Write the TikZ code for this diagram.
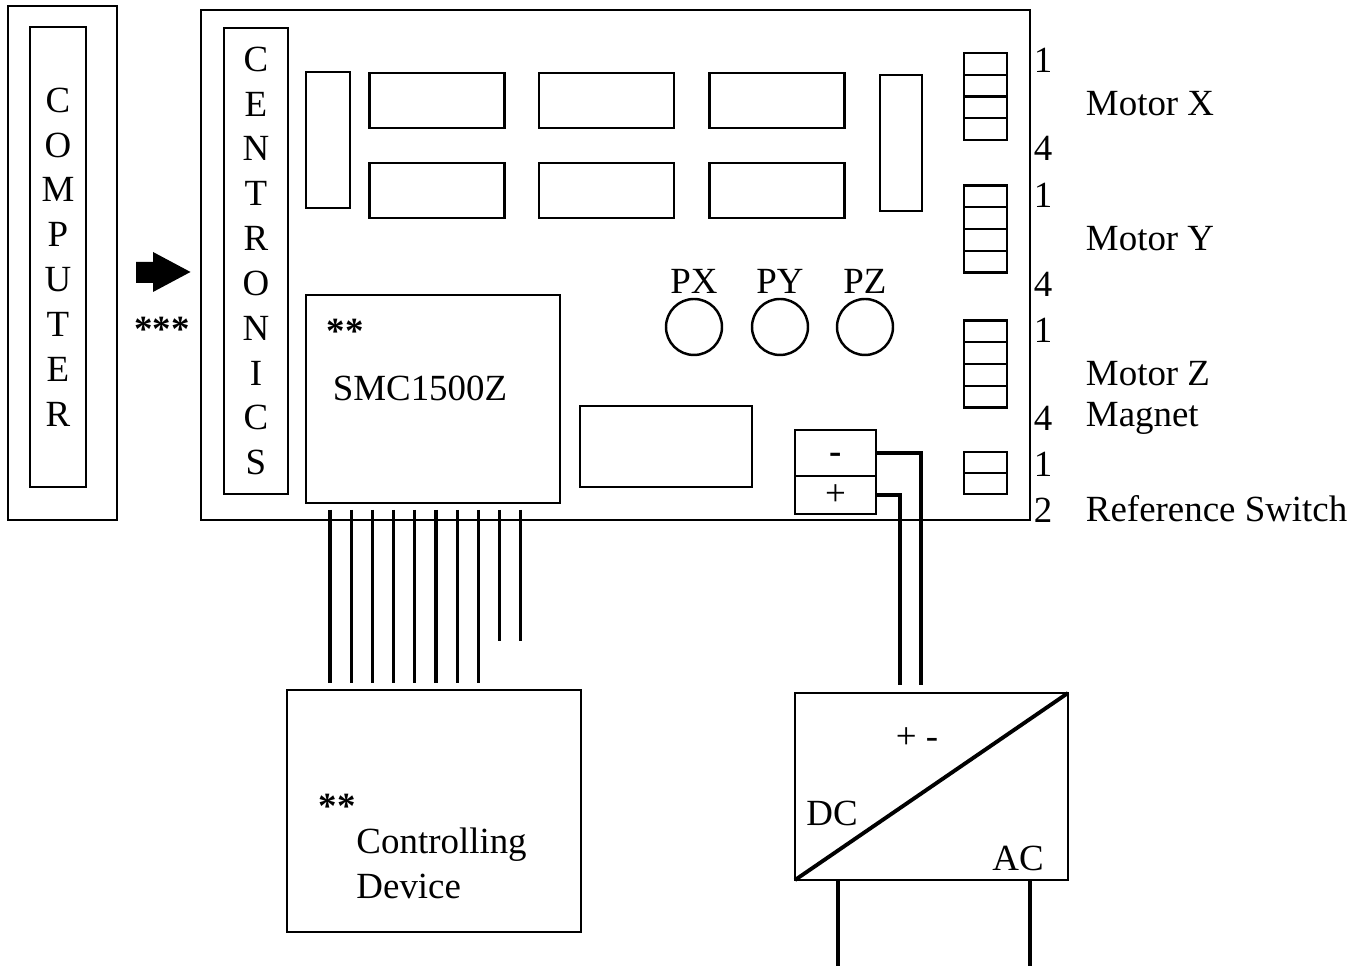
\documentclass[tikz,border=0pt]{standalone}
\usepackage{fontspec}
\setmainfont{Liberation Serif}
\usetikzlibrary{calc}

\begin{document}
\begin{tikzpicture}[font=\fontsize{21}{25.5}\selectfont, line width=1.4pt,
  box/.style={draw, rectangle, inner sep=0pt, outer sep=0pt},
  txt/.style={inner sep=1pt},
  star/.style={inner sep=1pt, font=\fontsize{21}{25.5}\selectfont\bfseries},
  wire/.style={line width=1.8pt}]
\useasboundingbox (0,0) rectangle (27.38,19.32);

% Computer
\node[box, minimum width=2.18cm, minimum height=10.28cm] (pc) at (1.25,14.06) {};
\node[box, minimum width=1.12cm, minimum height=9.2cm, align=center] (pcin) at (1.16,14.18) {C\\O\\M\\P\\U\\T\\E\\R};

% Arrow to the board
\fill (2.72,14.08) -- (3.06,14.08) -- (3.06,14.28) -- (3.81,13.88) -- (3.06,13.48) -- (3.06,13.66) -- (2.72,13.66) -- cycle;
\node[star] (stars) at (3.24,12.74) {***};

% Board
\node[box, minimum width=16.58cm, minimum height=10.2cm] (board) at (12.31,14.02) {};
\node[box, minimum width=1.28cm, minimum height=9.32cm, align=center] (cent) at (5.12,14.1) {C\\E\\N\\T\\R\\O\\N\\I\\C\\S};

% Chips
\node[box, minimum width=0.88cm, minimum height=2.72cm] (chipl) at (6.56,16.52) {};
\foreach \n/\x in {a/8.74, b/12.13, c/15.54}{
  \node[box, minimum width=2.7cm, minimum height=1.1cm] (top\n) at (\x,17.31) {};
  \node[box, minimum width=2.7cm, minimum height=1.1cm] (bot\n) at (\x,15.51) {};
}
\node[box, minimum width=0.84cm, minimum height=2.72cm] (chipr) at (18.02,16.46) {};

% SMC1500Z
\node[box, minimum width=5.08cm, minimum height=4.16cm] (smc) at (8.66,11.34) {};
\node[star] (smcstar) at (6.9,12.7) {**};
\node[txt] (smcname) at (8.4,11.56) {SMC1500Z};

% Potentiometers
\foreach \p/\x in {X/13.88, Y/15.6, Z/17.3}
  \node[draw, circle, minimum size=1.12cm, inner sep=0pt,
        label={[txt, label distance=1pt]above:P\p}] (p\p) at (\x,12.78) {};

\node[box, minimum width=3.44cm, minimum height=1.62cm] (relay) at (13.32,10.39) {};

% Power terminal
\node[box, minimum width=1.62cm, minimum height=0.92cm] (minus) at (16.71,10.26) {};
\node[star] (minussign) at (16.71,10.16) {-};
\node[box, minimum width=1.62cm, minimum height=0.76cm] (plus) at (16.71,9.42) {+};

% Motor connectors
\foreach \m/\y in {x/17.39, y/14.74, z/12.04}{
  \node[box, minimum width=0.86cm, minimum height=1.74cm] (con\m) at (19.71,\y) {};
  \foreach \k in {1,2,3}
    \draw ($(con\m.south west)!\k/4!(con\m.north west)$) -- ($(con\m.south east)!\k/4!(con\m.north east)$);
}
\node[box, minimum width=0.86cm, minimum height=0.84cm] (conr) at (19.71,9.86) {};
\draw (conr.west) -- (conr.east);

% Pin numbers
\foreach \t/\y [count=\i] in {1/18.12, 4/16.36, 1/15.42, 4/13.64, 1/12.72, 4/10.96, 1/10.04, 2/9.12}
  \node[txt] (pin\i) at (20.86,\y) {\t};

\node[txt, anchor=west] (motx) at (21.66,17.24) {Motor X};
\node[txt, anchor=west] (moty) at (21.66,14.54) {Motor Y};
\node[txt, anchor=west] (motz) at (21.66,11.84) {Motor Z};
\node[txt, anchor=west] (magnet) at (21.66,10.96) {Magnet};
\node[txt, anchor=west] (refsw) at (21.66,9.14) {Reference Switch};

% Controlling device
\node[box, minimum width=5.88cm, minimum height=4.84cm] (ctrl) at (8.68,3.1) {};
\node[star] (ctrlstar) at (6.74,3.2) {**};
\node[txt, anchor=west, align=left] (ctrlname) at (7.07,2.05) {Controlling\\Device};

% Wires
\foreach \k in {0,...,7}
  \draw[wire] ([xshift=0.48cm+\k*0.424cm, yshift=-0.14cm]smc.south west) coordinate (w) -- ($(w |- ctrl.north)+(0,0.14)$);
\foreach \k in {8,9}
  \draw[wire] ([xshift=0.48cm+\k*0.424cm, yshift=-0.14cm]smc.south west) -- ++(0,-2.62);

% Converter
\node[box, minimum width=5.46cm, minimum height=3.74cm] (conv) at (18.63,3.59) {};
\draw[line width=2.2pt] (conv.south west) -- (conv.north east);
\node[txt] (pm) at (18.34,4.56) {+ -};
\node[txt] (dc) at (16.64,3.06) {DC};
\node[txt] (ac) at (20.36,2.16) {AC};

\draw[wire] (minus.east) -| ($(conv.north west)+(2.52,0.16)$);
\draw[wire] (plus.east) -| ($(conv.north west)+(2.1,0.16)$);
\draw[wire] ([xshift=0.86cm]conv.south west) -- ++(0,-1.72);
\draw[wire] ([xshift=4.7cm]conv.south west) -- ++(0,-1.72);
\end{tikzpicture}
\end{document}
